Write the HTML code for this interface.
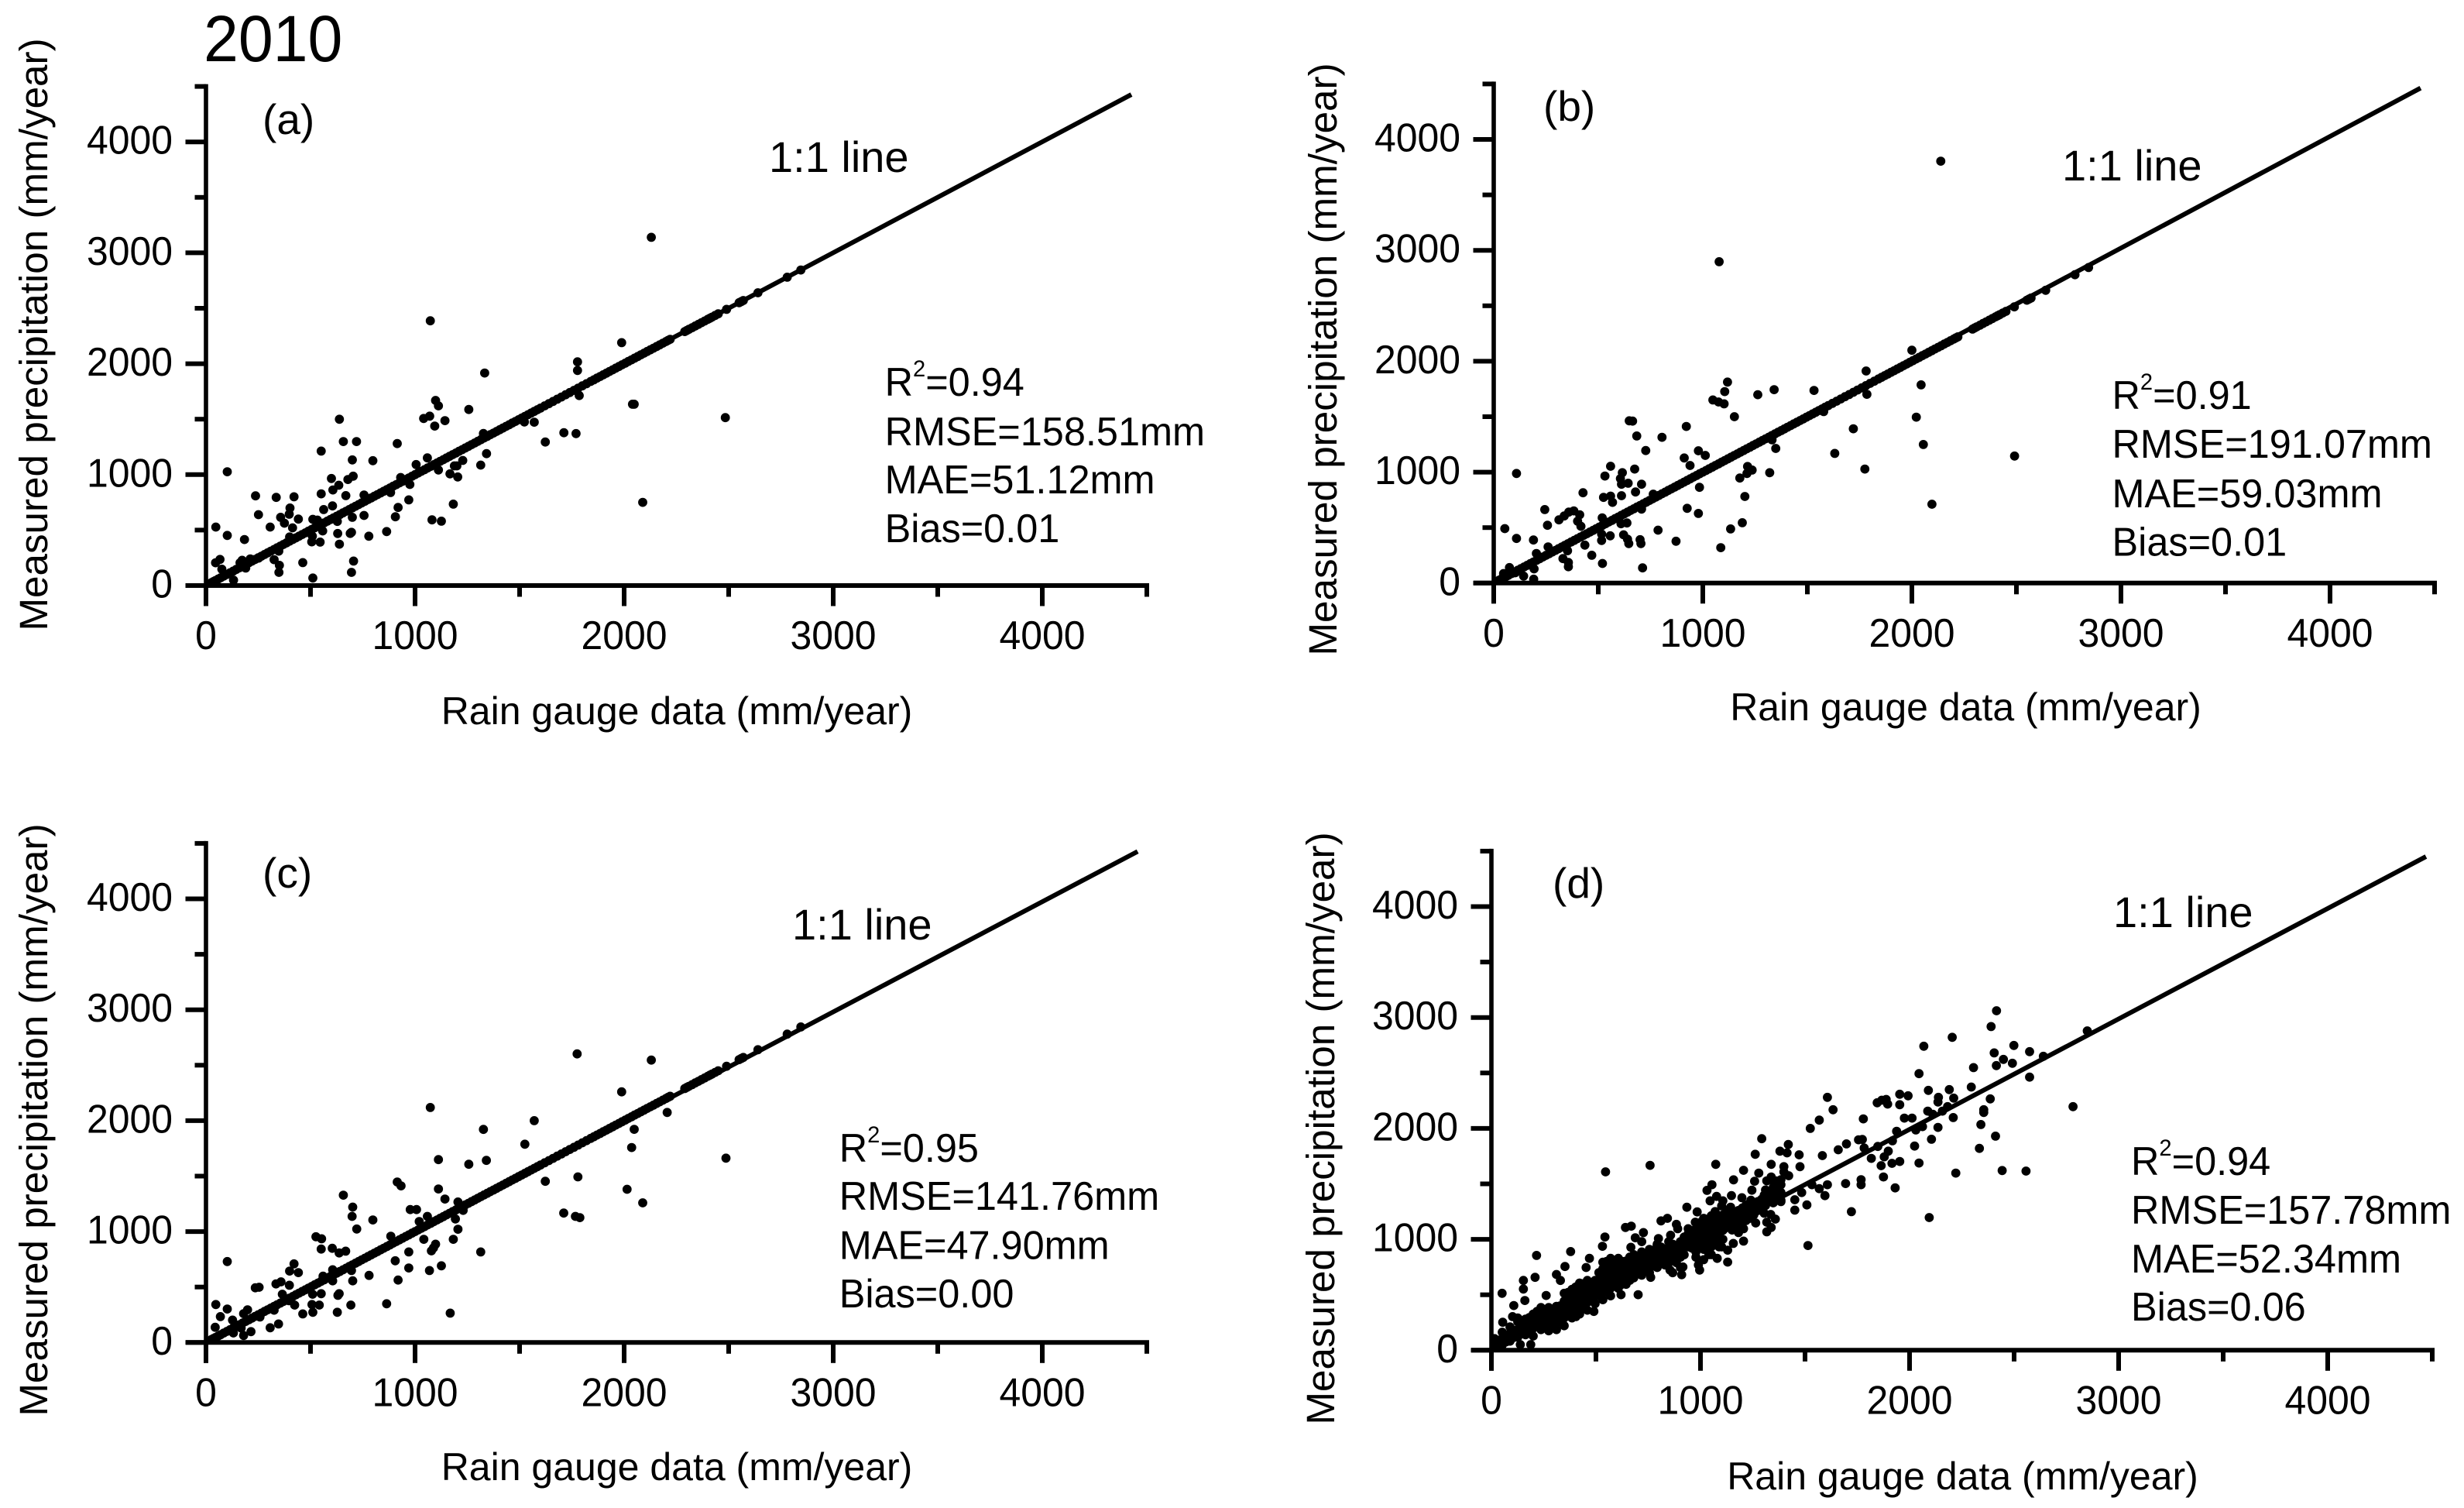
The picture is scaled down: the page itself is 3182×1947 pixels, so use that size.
<!DOCTYPE html>
<html lang="en">
<head>
<meta charset="utf-8">
<title>2010 measured precipitation vs rain gauge data</title>
<style>
html,body{margin:0;padding:0;background:#fff;}
svg{display:block;}
text{font-family:"Liberation Sans",sans-serif;fill:#000;}
</style>
</head>
<body>
<svg id="chart" xmlns="http://www.w3.org/2000/svg" width="3182" height="1947" viewBox="0 0 3182 1947">
<rect x="0" y="0" width="3182" height="1947" fill="#fff"/>
<text transform="translate(263,79) scale(.96,1)" font-size="84">2010</text>

<g>
<text x="339" y="173" font-size="55">(a)</text>
<text x="993" y="222" font-size="56">1:1 line</text>
<text x="874" y="935" font-size="50" text-anchor="middle">Rain gauge data (mm/year)</text>
<text transform="translate(61,432) rotate(-90)" font-size="51.2" text-anchor="middle">Measured precipitation (mm/year)</text>
<text transform="translate(1142.6,511) scale(.97,1)" font-size="52">R<tspan font-size="30" dy="-25">2</tspan><tspan dy="25">=0.94</tspan></text>
<text transform="translate(1142.6,575) scale(.97,1)" font-size="52">RMSE=158.51mm</text>
<text transform="translate(1142.6,637) scale(.97,1)" font-size="52">MAE=51.12mm</text>
<text transform="translate(1142.6,700) scale(.97,1)" font-size="52">Bias=0.01</text>
</g>

<g>
<text x="1993" y="156" font-size="55">(b)</text>
<text x="2663" y="233" font-size="56">1:1 line</text>
<text x="2538.5" y="930" font-size="50" text-anchor="middle">Rain gauge data (mm/year)</text>
<text transform="translate(1726,464) rotate(-90)" font-size="51.2" text-anchor="middle">Measured precipitation (mm/year)</text>
<text transform="translate(2727.5,528) scale(.97,1)" font-size="52">R<tspan font-size="30" dy="-25">2</tspan><tspan dy="25">=0.91</tspan></text>
<text transform="translate(2727.5,591) scale(.97,1)" font-size="52">RMSE=191.07mm</text>
<text transform="translate(2727.5,655) scale(.97,1)" font-size="52">MAE=59.03mm</text>
<text transform="translate(2727.5,717.5) scale(.97,1)" font-size="52">Bias=0.01</text>
</g>

<g>
<text x="339" y="1146" font-size="55">(c)</text>
<text x="1023" y="1213" font-size="56">1:1 line</text>
<text x="874" y="1911" font-size="50" text-anchor="middle">Rain gauge data (mm/year)</text>
<text transform="translate(61,1446) rotate(-90)" font-size="51.2" text-anchor="middle">Measured precipitation (mm/year)</text>
<text transform="translate(1083.7,1500) scale(.97,1)" font-size="52">R<tspan font-size="30" dy="-25">2</tspan><tspan dy="25">=0.95</tspan></text>
<text transform="translate(1083.7,1562) scale(.97,1)" font-size="52">RMSE=141.76mm</text>
<text transform="translate(1083.7,1625.5) scale(.97,1)" font-size="52">MAE=47.90mm</text>
<text transform="translate(1083.7,1688) scale(.97,1)" font-size="52">Bias=0.00</text>
</g>

<g>
<text x="2005" y="1159" font-size="55">(d)</text>
<text x="2729" y="1197" font-size="56">1:1 line</text>
<text x="2534.5" y="1923" font-size="50" text-anchor="middle">Rain gauge data (mm/year)</text>
<text transform="translate(1723,1457) rotate(-90)" font-size="51.2" text-anchor="middle">Measured precipitation (mm/year)</text>
<text transform="translate(2752,1517) scale(.97,1)" font-size="52">R<tspan font-size="30" dy="-25">2</tspan><tspan dy="25">=0.94</tspan></text>
<text transform="translate(2752,1580) scale(.97,1)" font-size="52">RMSE=157.78mm</text>
<text transform="translate(2752,1643) scale(.97,1)" font-size="52">MAE=52.34mm</text>
<text transform="translate(2752,1705) scale(.97,1)" font-size="52">Bias=0.06</text>
</g>
</svg>

<script>
const tickValues = [0,500,1000,1500,2000,2500,3000,3500,4000,4500];
const labelledTicks = ['0','1000','2000','3000','4000'];

const lineEndA = [4426,4427];
const lineEndB = [4433,4463];
const lineEndC = [4456,4427];
const lineEndD = [4470,4451];

/* stations whose value sits on the 1:1 line in panels a, b and c */
const onLineValues = [25,45,70,100,130,160,190,220,250,280,310,340,370,400,430,460,490,520,550,580,610,640,670,700,730,760,790,820,850,880,910,940,970,1000,1030,1060,1090,1120,1150,1180,1210,1240,1270,1300,1330,1360,1390,1420,1450,1480,1510,1540,1570,1600,1640,1680,1720,1760,1800,1840,1870,1900,1930,1960,1990,2020,2050,2080,2110,2140,2170,2200,2220,2290,2310,2340,2370,2400,2420,2450,2490,2550,2570,2640,2780,2845];
const onLineExtra = [35,58,85,115,145,175,205,235,265,295,325,355,385,415,445,475,505,535,565,595,625,655,685,715,745,775,805,835,865,895,925,955,985,1015,1045,1075,1105,1135,1165,1195,1225,1255,1285,1315,1345,1375,1405,1435,1465,1495,1525,1555,1585,1620,1660,1700,1740,1780,1820,1855,1885,1915,1945,1975,2005,2035,2065,2095,2125,2155,2185,2210,2300,2325,2355,2385,2410,2435,2560];

const pointsA = [[1073,2387],[1333,1916],[1098,1669],[1112,1620],[1257,1587],[1041,1506],[1070,1527],[1094,1438],[1143,1487],[1523,1475],[1570,1473],[1623,1294],[1712,1378],[1770,1370],[638,1499],[657,1298],[720,1298],[915,1280],[551,1212],[700,1133],[798,1126],[1005,1091],[1059,1151],[1228,1128],[1342,1189],[1327,1371],[1314,1086],[1200,1079],[1188,1079],[1167,1007],[1204,979],[1112,1042],[102,1026],[600,965],[635,904],[607,862],[679,956],[704,986],[669,811],[551,827],[237,809],[336,795],[421,800],[756,816],[931,974],[975,911],[883,839],[970,772],[919,704],[906,620],[864,487],[779,445],[1183,734],[1081,592],[1126,580],[605,718],[563,685],[402,699],[398,643],[251,639],[357,615],[375,562],[442,599],[307,527],[47,527],[102,452],[184,415],[414,520],[511,597],[533,590],[628,578],[700,615],[756,632],[630,469],[696,480],[690,470],[558,492],[509,445],[506,394],[546,392],[638,373],[400,438],[348,310],[326,233],[351,182],[349,119],[463,207],[511,68],[706,221],[696,119],[46,205],[67,235],[76,147],[132,49],[163,205],[173,228],[190,158],[212,240],[252,247],[2130,3140],[1988,2190],[1777,2017],[1777,1939],[1785,1713],[2040,1635],[2048,1635],[2484,1514],[2089,750]];

const pointsB = [[109,988],[53,491],[109,402],[190,388],[244,663],[257,521],[312,570],[337,605],[359,640],[383,651],[411,616],[401,558],[417,512],[436,342],[353,291],[331,221],[357,186],[357,147],[469,251],[520,177],[204,267],[260,326],[193,128],[191,35],[75,140],[47,86],[103,93],[143,63],[427,814],[532,965],[559,1053],[615,995],[606,942],[611,891],[643,900],[674,1028],[707,891],[678,821],[611,788],[525,772],[559,784],[568,728],[519,588],[609,535],[637,542],[516,384],[516,442],[557,426],[621,435],[640,395],[646,356],[700,391],[704,356],[712,137],[707,667],[763,802],[786,477],[872,377],[648,1463],[664,1460],[684,1326],[727,1195],[805,1314],[921,1412],[911,1128],[939,1060],[979,1193],[1012,1151],[984,863],[925,674],[979,628],[1118,1812],[1105,1726],[1048,1651],[1075,1633],[1102,1616],[1151,1500],[1263,1698],[1341,1744],[1532,1737],[1781,1912],[1785,1702],[1720,1391],[1631,1169],[1775,1028],[1320,995],[1349,1214],[1331,1291],[1214,1051],[1236,1019],[1211,988],[1177,947],[1201,781],[1189,544],[1133,488],[1086,319],[1578,1546],[2138,3804],[1078,2897],[2000,2099],[2044,1787],[2021,1496],[2055,1249],[2491,1145],[2096,711]];

const pointsC = [[1775,2602],[1073,2119],[1327,1921],[1570,2000],[1525,1788],[1112,1649],[1257,1607],[1341,1642],[1779,1493],[1623,1453],[1711,1167],[1767,1137],[1788,1126],[1314,816],[915,1447],[933,1412],[657,1328],[702,1221],[699,1137],[721,1023],[798,1105],[1112,1384],[1143,1293],[1205,1267],[1230,1191],[1193,1114],[1205,1021],[1183,930],[977,1198],[1007,1198],[1020,1091],[1059,1137],[884,958],[1042,930],[1098,886],[1088,853],[1078,826],[970,816],[905,737],[970,672],[1069,649],[1126,691],[919,563],[864,349],[1168,265],[780,605],[702,556],[693,337],[628,272],[637,440],[631,425],[551,440],[542,337],[511,272],[510,435],[507,342],[463,258],[526,953],[553,935],[551,842],[604,849],[637,807],[668,823],[606,656],[606,556],[696,649],[560,598],[421,709],[400,644],[442,630],[335,528],[359,547],[236,493],[254,498],[399,516],[424,337],[396,377],[365,435],[102,730],[47,342],[102,302],[69,233],[127,202],[44,137],[131,86],[180,63],[215,98],[199,295],[180,260],[258,230],[326,291],[307,133],[347,167],[168,130],[2130,2546],[1988,2260],[2206,2074],[2048,1922],[2036,1758],[2487,1662],[2014,1381],[2089,1259]];

const pointsD = [
[2416,3061],[2390,2918],[2204,2821],[2499,2748],[2405,2681],[2449,2622],[2492,2587],[2415,2566],[2574,2692],[2306,2548],[2640,2650],[2850,2879],[2295,2373],[2190,2350],[2211,2273],[2574,2462],[2386,2266],[2355,2168],[2355,2144],[2209,2098],[2341,2035],[2411,1930],[2334,1820],[2221,1597],[2443,1620],[2557,1615],[2782,2196],
[2068,2741],[2045,2494],[2090,2343],[1953,2308],[1993,2294],[1845,2231],[1867,2254],[1888,2261],[1895,2219],[1953,2214],[1607,2280],[1634,2168],[1568,2075],[1525,2000],[1779,2086],[1975,2093],[2012,2093],[2138,2280],[2136,2238],[2182,2196],[2087,2156],[2111,2128],[2157,2156],[2136,2009],[2105,1902],[2062,2016],[2030,1986],[1938,1974],[1918,1888],[2024,1841],[2045,1688],[1931,1464],[2094,1196],[1722,1249],[1514,944],
[1293,1907],[1262,1767],[1380,1795],[1420,1855],[1414,1779],[1472,1762],[1476,1655],[1583,1755],[1659,1807],[1698,1860],[1756,1897],[1774,1900],[1783,1823],[1848,1837],[1898,1795],[1879,1744],[1817,1730],[1864,1664],[1916,1685],[1953,1702],[1875,1562],[1768,1538],[1768,1492],[1694,1503],[1607,1492],[1595,1394],[1509,1310],[1451,1263],[1451,1357],[1484,1422],[1568,1457],[1533,1492],[1073,1676],[1206,1622],[1338,1676],[1399,1655],[1399,1608],[1422,1573],[1279,1597],[1259,1524],[1158,1536],[1055,1492],[1031,1441],[1246,1443],[1338,1562],[1317,1527],[1361,1527],[1385,1538],[1379,1480],[1305,1399],[1348,1422],[1148,1394],[1198,1375],[1077,1387],[1046,1347],[1107,1347],[1101,1301],[1241,1352],[1262,1329],[1338,1375],[1385,1340],[1138,1259],[1206,1270],[1231,1270],[1175,1212],[1305,1235],[1336,1224],[1358,1182],[1264,1147],[1317,1154],[1338,1107],[1317,1068],[1206,1096],[1182,1061],[1206,984],[1157,963],[1130,902],[1130,795],[1080,828],[1052,1189],[1101,1200],[1058,1107],[1027,1049],[1089,1014],[1114,1096],[1151,1084],[1033,956],[1070,956],[1040,862],[1101,932],
[546,1608],[759,1667],[935,1289],[984,1247],[941,1096],[975,1154],[972,1084],[811,1166],[842,1189],[885,1135],[891,1096],[857,1037],[848,979],[641,1107],[669,1119],[543,1021],[531,937],[727,1061],[688,1014],[799,1007],[793,944],[667,928],[719,979],[379,890],[216,855],[469,828],[453,746],[352,755],[311,683],[330,629],[209,657],[153,629],[153,552],[160,448],[51,513],[262,494],[107,403],[101,303],[54,252],[620,501],[702,501],[138,51],[188,51],[490,350],[404,303],[910,681],[996,723],[916,751],[854,723],[990,769],[978,839],[1015,816],[762,657],
[15,70],[15,105],[15,35],[52,47],[52,105],[52,163],[89,82],[89,152],[89,210],[126,117],[126,186],[126,256],[126,291],[163,140],[163,210],[163,280],[200,128],[200,198],[200,268],[200,326],[237,186],[237,256],[237,326],[237,385],[274,175],[274,245],[274,315],[274,385],[311,186],[311,256],[311,326],[311,396],[348,221],[348,291],[348,361],[348,443],[348,513],[385,291],[385,350],[385,420],[385,490],[385,548],[422,326],[422,396],[422,466],[422,536],[422,606],[459,361],[459,431],[459,501],[459,571],[459,629],[496,420],[496,490],[496,559],[496,629],[533,455],[533,524],[533,594],[533,664],[533,734],[533,793],[570,490],[570,559],[570,629],[570,699],[570,769],[570,828],[607,559],[607,629],[607,699],[607,769],[607,828],[644,594],[644,664],[644,734],[644,804],[681,653],[681,723],[681,793],[681,862],[719,676],[719,746],[719,816],[719,886],[756,699],[756,769],[756,839],[756,909],[793,746],[793,816],[793,886],[793,956],[830,769],[830,839],[830,909],[867,699],[867,816],[867,886],[867,956],[904,746],[904,839],[904,909],[904,979],[941,932],[941,1002],[941,1049],[978,886],[978,956],[978,1026],[978,1096],[1015,909],[1015,979],[1015,1049],[1015,1119],[1015,1189],[1052,862],[1052,932],[1052,1002],[1052,1072],[1052,1142],[1052,1212],[1089,932],[1089,1002],[1089,1072],[1089,1142],[1089,1212],[1126,1119],[1126,1189],[1126,1259],[1163,1096],[1163,1166],[1163,1235],[1200,1142],[1200,1212],[1200,1282],[1237,1189],[1237,1259],[1237,1329],[1274,1259],[1274,1340],[1311,1305],[1311,1375],[1311,1445],[1348,1329],[1348,1399],[1348,1469],[1348,1527],[1385,1352],[1385,1422],[1385,1492]
];

const pointsDDense = [[33,60],[33,90],[70,75],[70,130],[107,115],[107,180],[144,150],[144,220],[181,165],[181,235],[181,295],[218,220],[218,290],[218,350],[255,210],[255,280],[255,350],[292,220],[292,290],[292,360],[329,255],[329,325],[329,400],[366,320],[366,385],[366,455],[366,520],[403,360],[403,430],[403,500],[403,570],[440,395],[440,465],[440,535],[440,600],[477,455],[477,525],[477,595],[514,490],[514,560],[514,630],[514,700],[551,525],[551,595],[551,665],[551,735],[551,800],[588,595],[588,665],[588,735],[588,800],[625,595],[625,665],[625,735],[625,800],[662,630],[662,700],[662,770],[662,840],[700,690],[700,760],[700,830],[737,720],[737,790],[737,860],[775,760],[775,830],[775,900],[812,790],[812,860],[812,930],[849,790],[849,860],[849,930],[885,790],[885,860],[885,930],[922,860],[922,940],[922,1020],[960,920],[960,990],[960,1060],[997,940],[997,1010],[997,1080],[997,1150],[1034,900],[1034,970],[1034,1040],[1034,1110],[1034,1180],[1070,970],[1070,1040],[1070,1110],[1070,1180],[1070,1250],[1107,1000],[1107,1080],[1107,1150],[1107,1220],[1144,1150],[1144,1220],[1144,1290],[1181,1120],[1181,1190],[1181,1260],[1218,1170],[1218,1240],[1218,1310],[1255,1220],[1255,1300],[1292,1280],[1292,1360],[1330,1350],[1330,1430],[1367,1380],[1367,1450]];

const NS = 'http://www.w3.org/2000/svg';
const svg = document.getElementById('chart');
const X_SCALE = 0.27;
const Y_SCALE = 0.1432;
const panels = [
  {id:'a', ox:266,  oy:756,    xEnd:4500, series:[pointsA], lineEnd:lineEndA, onLine:true},
  {id:'b', ox:1929, oy:752.8,  xEnd:4500, series:[pointsB], lineEnd:lineEndB, onLine:true},
  {id:'c', ox:266,  oy:1733.3, xEnd:4500, series:[pointsC], lineEnd:lineEndC, onLine:true},
  {id:'d', ox:1926, oy:1743.3, xEnd:4500, series:[pointsD, pointsDDense], lineEnd:lineEndD, onLine:false}
];

function rectLine(parent, x1, y1, x2, y2, w) {
  const l = document.createElementNS(NS, 'line');
  l.setAttribute('x1', x1);
  l.setAttribute('y1', y1);
  l.setAttribute('x2', x2);
  l.setAttribute('y2', y2);
  l.setAttribute('stroke', '#000');
  l.setAttribute('stroke-width', w);
  parent.appendChild(l);
  return l;
}

function drawDot(parent, cx, cy) {
  const c = document.createElementNS(NS, 'circle');
  
  
  c.setAttribute('cx', cx.toFixed(1));
  c.setAttribute('cy', cy.toFixed(1));
  c.setAttribute('r', '5.9');
  c.setAttribute('fill', '#000');
  parent.appendChild(c);
}

function drawPanel(p) {
  const xPos = v => p.ox + v * X_SCALE;
  const yPos = v => p.oy - v * Y_SCALE;

  const g = document.createElementNS(NS, 'g');
  
  
  svg.appendChild(g);

  const xAxis = rectLine(g, p.ox - 26, p.oy, xPos(p.xEnd) + 3, p.oy, 6);
  
  

  const yAxis = rectLine(g, p.ox, yPos(4500) - 3, p.ox, p.oy + 26.5, 5.6);
  
  

  tickValues.forEach(function (v) {
    const isMajor = labelledTicks.indexOf(String(v)) >= 0;
    const len = isMajor ? 26.5 : 14.5;

    const xt = rectLine(g, xPos(v), p.oy, xPos(v), p.oy + len, 6);
    
    

    const yt = rectLine(g, p.ox, yPos(v), p.ox - len, yPos(v), 6);
    
    

    if (isMajor) {
      const xl = document.createElementNS(NS, 'text');
      
      
      xl.setAttribute('transform', 'translate(' + xPos(v) + ',' + (p.oy + 82) + ') scale(.96,1)');
      xl.setAttribute('font-size', '52');
      xl.setAttribute('text-anchor', 'middle');
      xl.textContent = String(v);
      g.appendChild(xl);

      const yl = document.createElementNS(NS, 'text');
      
      
      yl.setAttribute('transform', 'translate(' + (p.ox - 43) + ',' + (yPos(v) + 15.5) + ') scale(.96,1)');
      yl.setAttribute('font-size', '52');
      yl.setAttribute('text-anchor', 'end');
      yl.textContent = String(v);
      g.appendChild(yl);
    }
  });

  const ref = rectLine(g, xPos(0), yPos(0), xPos(p.lineEnd[0]), yPos(p.lineEnd[1]), 6);
  
  

  if (p.onLine) {
    onLineValues.concat(onLineExtra).forEach(function (v) {
      drawDot(g, xPos(v), yPos(v));
    });
  }
  p.series.forEach(function (pts) {
    pts.forEach(function (pt) {
      drawDot(g, xPos(pt[0]), yPos(pt[1]));
    });
  });
}

panels.forEach(drawPanel);
</script>
</body>
</html>
